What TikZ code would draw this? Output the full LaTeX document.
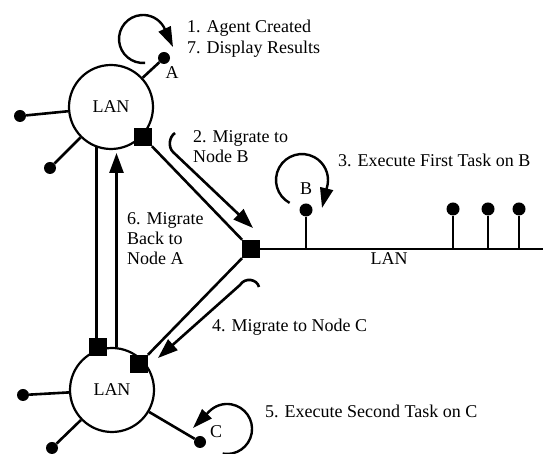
\documentclass[tikz,border=0pt]{standalone}
\usepackage{fontspec}
\setmainfont{Liberation Serif}
\usetikzlibrary{arrows.meta}
\begin{document}
\begin{tikzpicture}[x=1pt,y=1pt,
  lnk/.style={line width=2.6pt},
  arr/.style={line width=2.6pt,-{Triangle[length=20pt,width=14pt]}},
  loop/.style={line width=2.4pt,-{Triangle[length=20pt,width=13pt]}},
  lan/.style={circle,draw,line width=2.2pt,minimum size=84pt,inner sep=0pt,font=\fontsize{18}{20}\selectfont},
  dot/.style={circle,fill=black,inner sep=0pt,minimum size=12pt},
  sq/.style={rectangle,fill=black,inner sep=0pt,minimum size=18pt},
  lbl/.style={inner sep=0pt,font=\fontsize{18}{20}\selectfont},
  txt/.style={inner sep=0pt,anchor=base west,align=left,font=\fontsize{18}{20}\selectfont}]
\useasboundingbox (0,0) rectangle (543,454);

% LAN circles
\node[lan] (lanA) at (111,347) {LAN};
\node[lan] (lanC) at (112,64) {LAN};

% dots
\node[dot] (dA) at (164,396) {};
\node[dot] (dA1) at (20,338) {};
\node[dot] (dA2) at (50,286) {};
\node[dot] (dC1) at (23,59) {};
\node[dot] (dC2) at (52,6) {};
\node[dot] (dC) at (200,12) {};
\node[dot,minimum size=13pt] (dB) at (306,244) {};
\node[dot,minimum size=13pt] (dB1) at (453,245) {};
\node[dot,minimum size=13pt] (dB2) at (488,245) {};
\node[dot,minimum size=13pt] (dB3) at (519,245) {};

% squares
\node[sq] (sqA) at (143,317) {};
\node[sq] (sqJ) at (251,205) {};
\node[sq] (sqBL) at (98,107) {};
\node[sq] (sqBR) at (139,90) {};

% coordinates
\coordinate (lanEnd) at (543,205);
\coordinate (bB) at (306,205);
\coordinate (bB1) at (453,205);
\coordinate (bB2) at (488,205);
\coordinate (bB3) at (519,205);
\coordinate (h2a) at (175,321);
\coordinate (h2b) at (173,302);
\coordinate (t2) at (253,226);
\coordinate (h4a) at (259,167);
\coordinate (h4b) at (240,169);
\coordinate (t4) at (158,96);
\coordinate (v6tip) at (116,301);
\coordinate (loopA) at (145.1,391.1);
\coordinate (tipA) at (173,407);
\coordinate (loopB) at (289.6,251.1);
\coordinate (tipB) at (322,246);
\coordinate (loopC) at (222.7,0.4);
\coordinate (tipC) at (193,26);

% spokes
\draw[lnk] (lanA) -- (dA);
\draw[lnk] (lanA) -- (dA1);
\draw[lnk] (lanA) -- (dA2);
\draw[lnk] (lanC) -- (dC1);
\draw[lnk] (lanC) -- (dC2);
\draw[lnk] (lanC) -- (dC);

% LAN bus
\draw[lnk] (sqJ) -- (lanEnd);
\draw[lnk] (dB) -- (bB);
\draw[lnk] (dB1) -- (bB1);
\draw[lnk] (dB2) -- (bB2);
\draw[lnk] (dB3) -- (bB3);

% links
\draw[lnk] (sqA) -- (sqJ);
\draw[lnk] (sqJ) -- (sqBR);
\draw[lnk] (lanA.250) -- (lanA.250 |- sqBL.north);

% migration arrows
\draw[arr] (h2a) .. controls (169,317) and (168,307) .. (h2b) -- (t2);
\draw[arr] (h4a) .. controls (257,175) and (245,177) .. (h4b) -- (t4);
\draw[arr] (lanC.84) -- (lanC.84 |- v6tip);

% loops
\draw[loop] (loopA) arc[start angle=275,end angle=30,radius=24] -- (tipA);
\draw[loop] (loopB) arc[start angle=241.5,end angle=-10,radius=26] -- (tipB);
\draw[loop] (loopC) arc[start angle=260,end angle=495,radius=25] -- (tipC);

% labels
\node[lbl,anchor=base] (lA) at (172,375) {A};
\node[lbl,anchor=base] (lB) at (306,259) {B};
\node[lbl,anchor=base] (lC) at (216,16) {C};
\node[lbl,anchor=base] (lLAN) at (389,189) {LAN};

\node[txt] (t1) at (187,421) {1. Agent Created};
\node[txt] (t7) at (187,400) {7. Display Results};
\node[txt] (tm2) at (193,291) {2. Migrate to\\Node B};
\node[txt] (tm3) at (338,287) {3. Execute First Task on B};
\node[txt] (tm6) at (127,189) {6. Migrate\\Back to\\Node A};
\node[txt] (tm4) at (212,122) {4. Migrate to Node C};
\node[txt] (tm5) at (265,36) {5. Execute Second Task on C};
\end{tikzpicture}
\end{document}
